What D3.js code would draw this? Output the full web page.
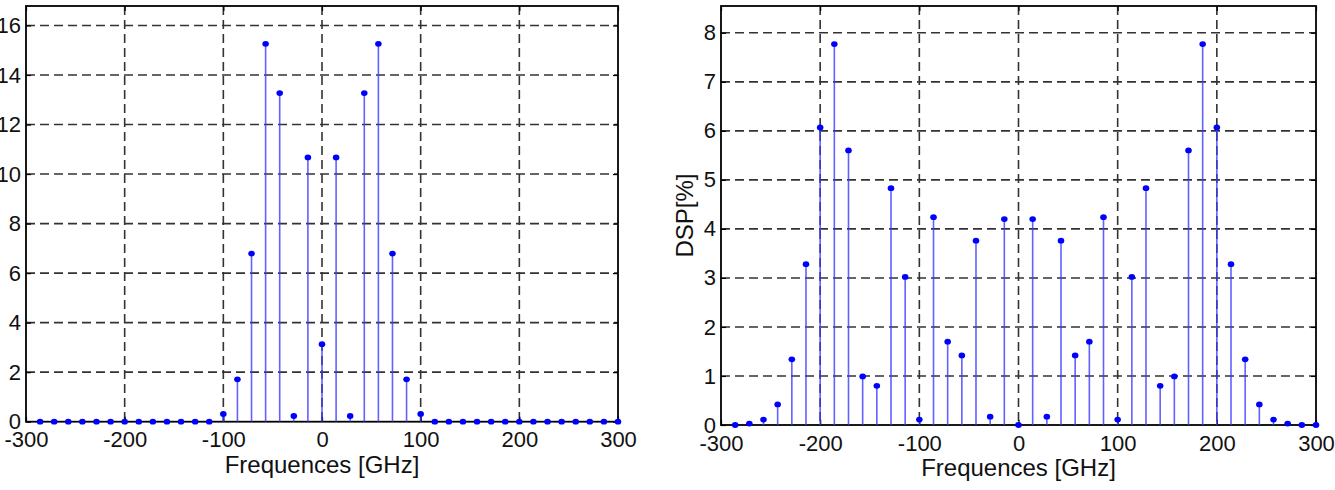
<!DOCTYPE html>
<html>
<head>
<meta charset="utf-8">
<script src="https://cdn.jsdelivr.net/npm/d3@7"></script>
<style>
  body { margin: 0; background: #fff; }
  svg text { font-family: "Liberation Sans", Arial, sans-serif; fill: #111; }
</style>
</head>
<body>
<div id="chart"></div>
<script>
// Frequencies [GHz] shared by both spectra
const freqs = [
  -285.71, -271.43, -257.14, -242.86, -228.57, -214.29, -200, -185.71, -171.43, -157.14,
  -142.86, -128.57, -114.29, -100, -85.71, -71.43, -57.14, -42.86, -28.57, -14.29,
  0,
  14.29, 28.57, 42.86, 57.14, 71.43, 85.71, 100, 114.29, 128.57, 142.86,
  157.14, 171.43, 185.71, 200, 214.29, 228.57, 242.86, 257.14, 271.43, 285.71, 300
];

// Left spectrum
const leftValues = [
  0, 0, 0, 0, 0, 0, 0, 0, 0, 0, 0, 0, 0,
  0.31, 1.71, 6.79, 15.26, 13.27, 0.23, 10.67, 3.13, 10.67, 0.23, 13.27, 15.26, 6.79, 1.71, 0.31,
  0, 0, 0, 0, 0, 0, 0, 0, 0, 0, 0, 0, 0, 0
];

// Right spectrum, DSP[%]
const rightValues = [
  0.0, 0.03, 0.11, 0.42, 1.34, 3.28, 6.07, 7.77, 5.60, 0.99,
  0.80, 4.83, 3.02, 0.11, 4.24, 1.70, 1.42, 3.76, 0.17, 4.20,
  0.0,
  4.20, 0.17, 3.76, 1.42, 1.70, 4.24, 0.11, 3.02, 4.83, 0.80,
  0.99, 5.60, 7.77, 6.07, 3.28, 1.34, 0.42, 0.11, 0.03, 0.0, 0.0
];

const xTicks = [-300, -200, -100, 0, 100, 200, 300];
const leftYTicks = [0, 2, 4, 6, 8, 10, 12, 14, 16];
const rightYTicks = [0, 1, 2, 3, 4, 5, 6, 7, 8];

const svg = d3.select('#chart')
    .append('svg')
    .attr('width', 1335)
    .attr('height', 490);

// plain hyphen for negatives, like the original figure
const fmt = d => String(d);

function drawPanel(opts) {
    const { x0, x1, top, bottom, values, yTicks, yLabel } = opts;

    const x = d3.scaleLinear().domain([-300, 300]).range([x0, x1]);
    const y = d3.scaleLinear().domain([0, d3.max(values) * 1.1]).range([bottom, top]);

    const g = svg.append('g');

    // dashed grid
    g.append('g').selectAll('line')
        .data(xTicks.filter(t => t > -300 && t < 300))
        .join('line')
        .attr('x1', d => x(d)).attr('x2', d => x(d))
        .attr('y1', top).attr('y2', bottom)
        .attr('stroke', '#333').attr('stroke-width', 1.6)
        .attr('stroke-dasharray', '9,5');

    g.append('g').selectAll('line')
        .data(yTicks.filter(t => t > 0))
        .join('line')
        .attr('x1', x0).attr('x2', x1)
        .attr('y1', d => y(d)).attr('y2', d => y(d))
        .attr('stroke', '#333').attr('stroke-width', 1.6)
        .attr('stroke-dasharray', '9,5');

    // axes with inner ticks
    const xAxis = d3.axisBottom(x).tickValues(xTicks).tickSize(-5).tickPadding(10).tickFormat(fmt);
    const xAxisTop = d3.axisTop(x).tickValues(xTicks).tickSize(-5).tickFormat('');
    const yAxis = d3.axisLeft(y).tickValues(yTicks).tickSize(-5).tickPadding(5).tickFormat(fmt);
    const yAxisRight = d3.axisRight(y).tickValues(yTicks).tickSize(-5).tickFormat('');

    const styleAxis = sel => {
        sel.select('.domain').remove();
        sel.selectAll('line').attr('stroke', '#000').attr('stroke-width', 1.2);
        sel.selectAll('text').style('font-size', '22px').attr('fill', '#111');
    };

    g.append('g').attr('transform', `translate(0,${bottom})`).call(xAxis).call(styleAxis);
    g.append('g').attr('transform', `translate(0,${top})`).call(xAxisTop).call(styleAxis);
    g.append('g').attr('transform', `translate(${x0},0)`).call(yAxis).call(styleAxis);
    g.append('g').attr('transform', `translate(${x1},0)`).call(yAxisRight).call(styleAxis);

    // frame
    g.append('rect')
        .attr('x', x0).attr('y', top)
        .attr('width', x1 - x0).attr('height', bottom - top)
        .attr('fill', 'none').attr('stroke', '#000').attr('stroke-width', 1.8);

    // stems
    const pts = freqs.map((f, i) => ({ f, v: values[i] }));
    g.append('g').selectAll('line')
        .data(pts)
        .join('line')
        .attr('x1', d => x(d.f)).attr('x2', d => x(d.f))
        .attr('y1', y(0)).attr('y2', d => y(d.v))
        .attr('stroke', '#3b3bff').attr('stroke-width', 1.6)
        .attr('stroke-opacity', 0.8);

    g.append('g').selectAll('ellipse')
        .data(pts)
        .join('ellipse')
        .attr('cx', d => x(d.f)).attr('cy', d => y(d.v))
        .attr('rx', 3.3).attr('ry', 2.9)
        .attr('fill', '#0000ff');

    // x label
    g.append('text')
        .attr('x', (x0 + x1) / 2).attr('y', bottom + 51)
        .attr('text-anchor', 'middle')
        .style('font-size', '24px')
        .text('Frequences [GHz]');

    if (yLabel) {
        g.append('text')
            .attr('transform', `translate(${x0 - 28},${(top + bottom) / 2}) rotate(-90)`)
            .attr('text-anchor', 'middle')
            .style('font-size', '24px')
            .text(yLabel);
    }
}

drawPanel({ x0: 26, x1: 618, top: 6, bottom: 421.7, values: leftValues, yTicks: leftYTicks });
drawPanel({ x0: 721, x1: 1316, top: 6, bottom: 425, values: rightValues, yTicks: rightYTicks, yLabel: 'DSP[%]' });
</script>
</body>
</html>
